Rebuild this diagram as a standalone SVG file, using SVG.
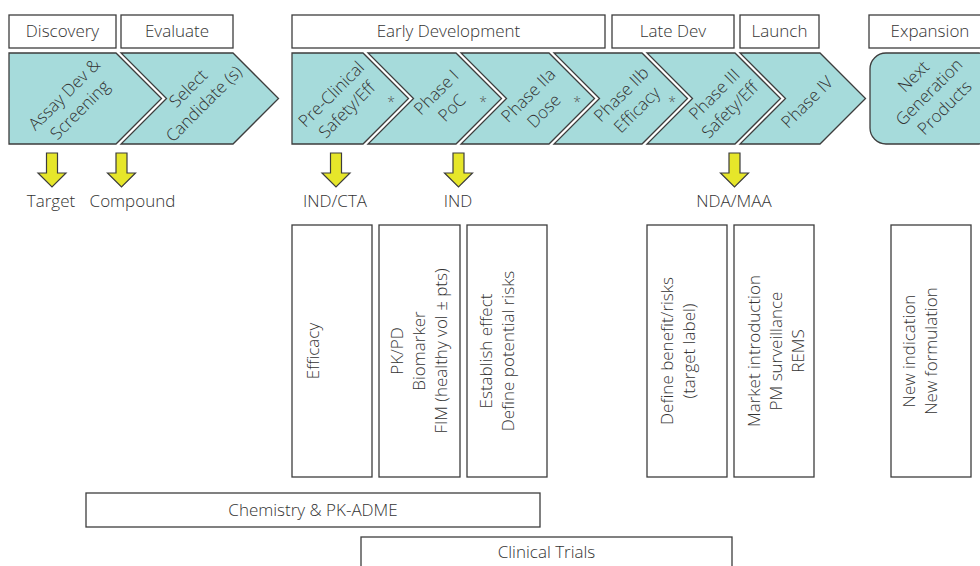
<svg xmlns="http://www.w3.org/2000/svg" width="980" height="566" viewBox="0 0 980 566">
  <style>
    .box { fill: #ffffff; stroke: #3d3d3d; stroke-width: 1.3; }
    .chev { fill: #a6dbdb; stroke: #3d3d3d; stroke-width: 1.3; stroke-linejoin: miter; }
    .arrow { fill: #e6e62a; stroke: #3d3d3d; stroke-width: 1.2; stroke-linejoin: miter; }
    text { font-family: "Open Sans", "Noto Sans", "Liberation Sans", sans-serif; font-size: 17px; font-weight: 300; fill: #333333; }
    .mid { text-anchor: middle; }
    .star { font-size: 14px; fill: #555555; text-anchor: middle; }
  </style>
  <defs>
    <path id="down" d="M-5.5,0 H5.5 V20 H14 L0,34 L-14,20 H-5.5 Z"/>
  </defs>

  <!-- stage headers -->
  <g id="hdr-discovery"><rect class="box" x="9" y="15" width="107" height="33"/><text class="mid" x="62.5" y="37">Discovery</text></g>
  <g id="hdr-evaluate"><rect class="box" x="121" y="15" width="112" height="33"/><text class="mid" x="177" y="37">Evaluate</text></g>
  <g id="hdr-early"><rect class="box" x="292" y="15" width="313" height="33"/><text class="mid" x="448.5" y="37">Early Development</text></g>
  <g id="hdr-late"><rect class="box" x="612" y="15" width="122" height="33"/><text class="mid" x="673" y="37">Late Dev</text></g>
  <g id="hdr-launch"><rect class="box" x="740" y="15" width="79" height="33"/><text class="mid" x="779.5" y="37">Launch</text></g>
  <g id="hdr-expansion"><rect class="box" x="869" y="15" width="123" height="33"/><text class="mid" x="930" y="37">Expansion</text></g>

  <!-- phase chevrons -->
  <g id="assay">
    <path class="chev" d="M9,53 H116 L161.5,98.5 L116,144 H9 Z"/>
    <text class="mid" transform="translate(72,102) rotate(-45)"><tspan x="0" y="-5">Assay Dev &amp;</tspan><tspan x="0" y="17">Screening</tspan></text>
  </g>
  <g id="select">
    <path class="chev" d="M121,53 H233 L278.5,98.5 L233,144 H121 L166.5,98.5 Z"/>
    <text class="mid" transform="translate(196,96) rotate(-45)"><tspan x="0" y="-5">Select</tspan><tspan x="0" y="17">Candidate (s)</tspan></text>
  </g>
  <g id="preclinical">
    <path class="chev" d="M292,53 H363 L408.5,98.5 L363,144 H292 Z"/>
    <text class="mid" transform="translate(339,102) rotate(-45)"><tspan x="0" y="-5">Pre-Clinical</tspan><tspan x="0" y="17">Safety/Eff</tspan></text>
    <text class="star" x="391" y="107">*</text>
  </g>
  <g id="phase1">
    <path class="chev" d="M368,53 H456 L501.5,98.5 L456,144 H368 L413.5,98.5 Z"/>
    <text class="mid" transform="translate(444,100) rotate(-45)"><tspan x="0" y="-5">Phase I</tspan><tspan x="0" y="17">PoC</tspan></text>
    <text class="star" x="483" y="107">*</text>
  </g>
  <g id="phase2a">
    <path class="chev" d="M461,53 H549 L594.5,98.5 L549,144 H461 L506.5,98.5 Z"/>
    <text class="mid" transform="translate(536,103) rotate(-45)"><tspan x="0" y="-5">Phase IIa</tspan><tspan x="0" y="17">Dose</tspan></text>
    <text class="star" x="577" y="107">*</text>
  </g>
  <g id="phase2b">
    <path class="chev" d="M554,53 H642 L687.5,98.5 L642,144 H554 L599.5,98.5 Z"/>
    <text class="mid" transform="translate(629,102) rotate(-45)"><tspan x="0" y="-5">Phase IIb</tspan><tspan x="0" y="17">Efficacy</tspan></text>
    <text class="star" x="672" y="107">*</text>
  </g>
  <g id="phase3">
    <path class="chev" d="M647,53 H735 L780.5,98.5 L735,144 H647 L692.5,98.5 Z"/>
    <text class="mid" transform="translate(722,102) rotate(-45)"><tspan x="0" y="-5">Phase III</tspan><tspan x="0" y="17">Safety/Eff</tspan></text>
  </g>
  <g id="phase4">
    <path class="chev" d="M740,53 H820 L865.5,98.5 L820,144 H740 L785.5,98.5 Z"/>
    <text class="mid" transform="translate(807,102) rotate(-45)"><tspan x="0" y="6">Phase IV</tspan></text>
  </g>
  <g id="nextgen">
    <rect class="chev" x="870" y="53" width="125" height="91" rx="16" ry="16"/>
    <text class="mid" transform="translate(929,92) rotate(-45)"><tspan x="0" y="-16">Next</tspan><tspan x="0" y="6">Generation</tspan><tspan x="0" y="28">Products</tspan></text>
  </g>

  <!-- milestone arrows -->
  <g id="connectors">
    <use href="#down" class="arrow" x="52" y="153"/>
    <use href="#down" class="arrow" x="121.5" y="153"/>
    <use href="#down" class="arrow" x="336" y="153"/>
    <use href="#down" class="arrow" x="458.5" y="153"/>
    <use href="#down" class="arrow" x="734.5" y="153"/>
  </g>

  <!-- milestone labels -->
  <g id="milestones">
    <text class="mid" x="51" y="207">Target</text>
    <text class="mid" x="132.5" y="207">Compound</text>
    <text class="mid" x="335" y="207">IND/CTA</text>
    <text class="mid" x="458" y="207">IND</text>
    <text class="mid" x="734" y="207">NDA/MAA</text>
  </g>

  <!-- activity boxes -->
  <g id="act-efficacy">
    <rect class="box" x="292" y="225" width="80" height="252"/>
    <text class="mid" transform="translate(319,351) rotate(-90)"><tspan x="0" y="0">Efficacy</tspan></text>
  </g>
  <g id="act-pkpd">
    <rect class="box" x="379" y="225" width="81" height="252"/>
    <text class="mid" transform="translate(403,351) rotate(-90)"><tspan x="0" y="0">PK/PD</tspan><tspan x="0" y="22">Biomarker</tspan><tspan x="0" y="44">FIM (healthy vol ± pts)</tspan></text>
  </g>
  <g id="act-establish">
    <rect class="box" x="467" y="225" width="80" height="252"/>
    <text class="mid" transform="translate(492,351) rotate(-90)"><tspan x="0" y="0">Establish effect</tspan><tspan x="0" y="22">Define potential risks</tspan></text>
  </g>
  <g id="act-benefit">
    <rect class="box" x="647" y="225" width="80" height="252"/>
    <text class="mid" transform="translate(673,351) rotate(-90)"><tspan x="0" y="0">Define benefit/risks</tspan><tspan x="0" y="22">(target label)</tspan></text>
  </g>
  <g id="act-market">
    <rect class="box" x="734" y="225" width="80" height="252"/>
    <text class="mid" transform="translate(760,351) rotate(-90)"><tspan x="0" y="0">Market introduction</tspan><tspan x="0" y="22">PM surveillance</tspan><tspan x="0" y="44">REMS</tspan></text>
  </g>
  <g id="act-new">
    <rect class="box" x="891" y="225" width="80" height="252"/>
    <text class="mid" transform="translate(915,351) rotate(-90)"><tspan x="0" y="0">New indication</tspan><tspan x="0" y="22">New formulation</tspan></text>
  </g>

  <!-- spanning bars -->
  <g id="bar-chemistry">
    <rect class="box" x="86" y="493" width="454" height="34"/>
    <text class="mid" x="313" y="516">Chemistry &amp; PK-ADME</text>
  </g>
  <g id="bar-clinical">
    <rect class="box" x="361" y="537" width="371" height="40"/>
    <text class="mid" x="546.5" y="558">Clinical Trials</text>
  </g>
</svg>
